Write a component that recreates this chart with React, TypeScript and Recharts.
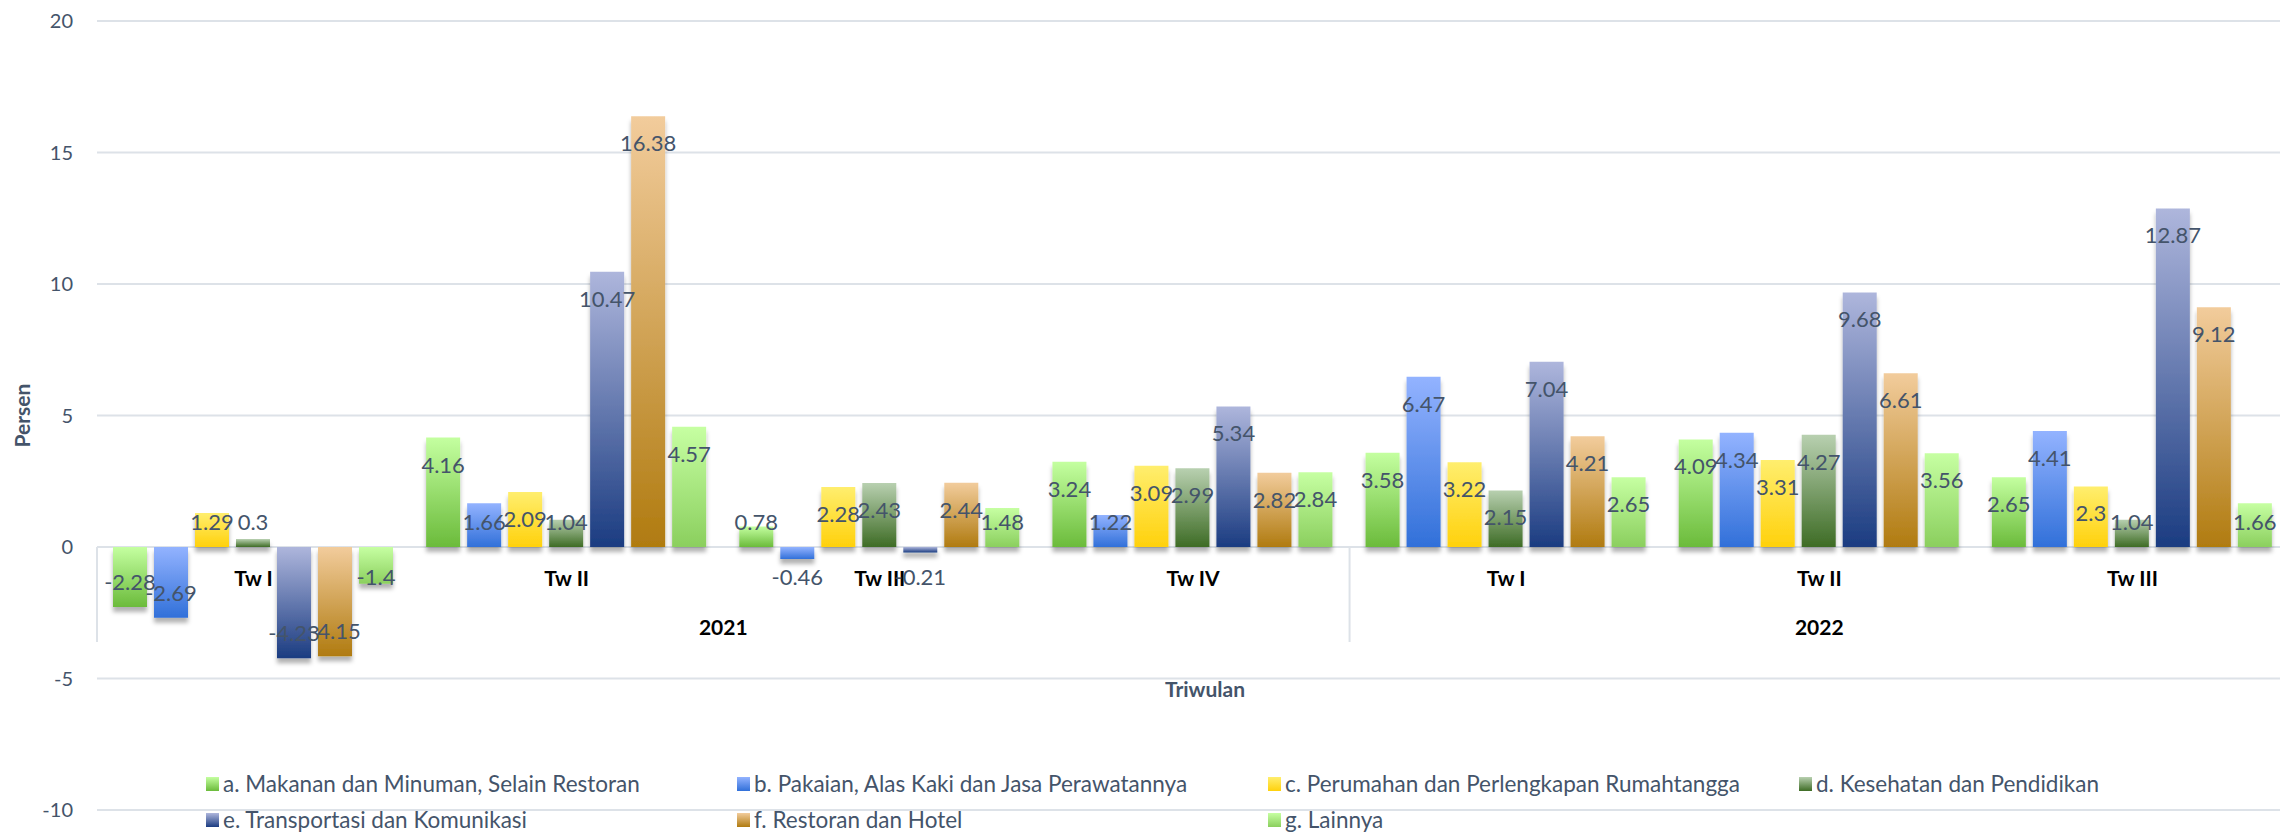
import { BarChart, Bar, XAxis, YAxis, CartesianGrid, LabelList } from 'recharts'

const quarters = ['Tw I', 'Tw II', 'Tw III', 'Tw IV', 'Tw I', 'Tw II', 'Tw III']
const years = ['2021', '2021', '2021', '2021', '2022', '2022', '2022']

const makanan = [-2.28, 4.16, 0.78, 3.24, 3.58, 4.09, 2.65]
const pakaian = [-2.69, 1.66, -0.46, 1.22, 6.47, 4.34, 4.41]
const perumahan = [1.29, 2.09, 2.28, 3.09, 3.22, 3.31, 2.3]
const kesehatan = [0.3, 1.04, 2.43, 2.99, 2.15, 4.27, 1.04]
const transportasi = [-4.23, 10.47, -0.21, 5.34, 7.04, 9.68, 12.87]
const restoran = [-4.15, 16.38, 2.44, 2.82, 4.21, 6.61, 9.12]
const lainnya = [-1.4, 4.57, 1.48, 2.84, 2.65, 3.56, 1.66]

const seriesNames = [
  'a. Makanan dan Minuman, Selain Restoran',
  'b. Pakaian, Alas Kaki dan Jasa Perawatannya',
  'c. Perumahan dan Perlengkapan Rumahtangga',
  'd. Kesehatan dan Pendidikan',
  'e. Transportasi dan Komunikasi',
  'f. Restoran dan Hotel',
  'g. Lainnya',
]
const seriesValues = [makanan, pakaian, perumahan, kesehatan, transportasi, restoran, lainnya]
const topColors = ['#c4ffa0', '#93b3ff', '#ffee6e', '#b8d0b0', '#aeb6dc', '#f2cc9c', '#c6ffa2']
const bottomColors = ['#6bbb3b', '#3170d9', '#ffd10c', '#3e6c25', '#1b3c81', '#b07b10', '#8bcf5e']

const yTicks = [-10, -5, 0, 5, 10, 15, 20]
const Y_MIN = -10
const Y_MAX = 20

const FONT = "Lato, 'Open Sans', sans-serif"
const TEXT = '#44546a'
const GRID = '#dde2e8'

const CHART_W = 2290
const CHART_H = 832
const TOP = 21
const X_AXIS_H = 22
const Y_AXIS_W = 97
const PLOT_H = CHART_H - TOP - X_AXIS_H
const ZERO_Y = TOP + ((Y_MAX - 0) / (Y_MAX - Y_MIN)) * PLOT_H

const data = quarters.map((q, i) => {
  const row: Record<string, string | number> = { key: `${years[i]} ${q}` }
  seriesValues.forEach((vals, s) => {
    row[`s${s}`] = vals[i]
  })
  return row
})

function QuarterTick(props: any) {
  const { x, payload } = props
  const i = payload.index
  const half = payload.offset ?? (CHART_W - Y_AXIS_W - 1) / quarters.length / 2
  const groupStart = i === 0 || years[i] !== years[i - 1]
  const groupLen = years.filter(y => y === years[i]).length
  const left = x - half
  return (
    <g>
      <text x={x} y={ZERO_Y + 31} dy="0.36em" textAnchor="middle" fontFamily={FONT} fontSize={21} fontWeight={700} fill="#000">
        {quarters[i]}
      </text>
      {groupStart && (
        <>
          <line x1={left} x2={left} y1={ZERO_Y} y2={ZERO_Y + 95} stroke={GRID} strokeWidth={2} />
          <text x={left + groupLen * half} y={ZERO_Y + 80} dy="0.36em" textAnchor="middle" fontFamily={FONT} fontSize={21} fontWeight={700} fill="#000">
            {years[i]}
          </text>
        </>
      )}
    </g>
  )
}

function renderValue(props: any) {
  const x = Number(props.x)
  const y = Number(props.y)
  const width = Number(props.width)
  const height = Number(props.height)
  const value = Number(props.value)
  const top = Math.min(y, y + height)
  const bottom = Math.max(y, y + height)
  const cy = value >= 0 ? Math.min(top + 27, ZERO_Y - 25) : Math.max(bottom - 25, ZERO_Y + 30)
  return (
    <text x={x + width / 2} y={cy} dy="0.36em" textAnchor="middle" fill={TEXT} fontSize={22} fontFamily={FONT}>
      {props.value}
    </text>
  )
}

function YTitle(props: any) {
  const vb = props.viewBox
  const cy = vb.y + vb.height / 2
  return (
    <text x={22} y={cy} dy="0.36em" textAnchor="middle" transform={`rotate(-90, 22, ${cy})`} fill={TEXT} fontSize={21} fontWeight={700} fontFamily={FONT}>
      Persen
    </text>
  )
}

function XTitle(props: any) {
  const vb = props.viewBox
  return (
    <text x={vb.x + vb.width / 2 + 12} y={ZERO_Y + 142} dy="0.36em" textAnchor="middle" fill={TEXT} fontSize={21} fontWeight={700} fontFamily={FONT}>
      Triwulan
    </text>
  )
}

export default function App() {
  return (
    <div style={{ position: 'fixed', left: 0, top: 0, width: 2280, height: 832, overflow: 'hidden', background: '#fff' }}>
      <BarChart
        width={CHART_W}
        height={CHART_H}
        data={data}
        margin={{ top: TOP, right: 1, left: 0, bottom: 0 }}
        barCategoryGap={16}
        barGap={7}
      >
        <defs>
          {topColors.map((c, i) => (
            <linearGradient key={i} id={`grad${i}`} x1="0" y1="0" x2="0" y2="1">
              <stop offset="0%" stopColor={c} />
              <stop offset="100%" stopColor={bottomColors[i]} />
            </linearGradient>
          ))}
          <filter id="barShadow" filterUnits="userSpaceOnUse" x="0" y="0" width="2400" height="900">
            <feDropShadow dx="0" dy="5" stdDeviation="2" floodColor="#000" floodOpacity="0.3" />
          </filter>
        </defs>
        <CartesianGrid vertical={false} stroke={GRID} strokeWidth={2} />
        <XAxis
          dataKey="key"
          height={X_AXIS_H}
          axisLine={false}
          tickLine={false}
          interval={0}
          tick={<QuarterTick />}
          label={<XTitle />}
        />
        <YAxis
          domain={[Y_MIN, Y_MAX]}
          ticks={yTicks}
          width={Y_AXIS_W}
          axisLine={false}
          tickLine={false}
          tickSize={0}
          tickMargin={24}
          tick={{ fill: TEXT, fontSize: 20, fontFamily: FONT }}
          label={<YTitle />}
        />
        {seriesNames.map((name, s) => (
          <Bar
            key={s}
            dataKey={`s${s}`}
            name={name}
            fill={`url(#grad${s})`}
            filter="url(#barShadow)"
            isAnimationActive={false}
          >
            <LabelList dataKey={`s${s}`} content={renderValue} />
          </Bar>
        ))}
      </BarChart>
      {seriesNames.map((name, i) => (
        <div
          key={name}
          style={{
            position: 'absolute',
            left: 206 + (i % 4) * 531,
            top: 784 + Math.floor(i / 4) * 36 - 11,
            height: 22,
            lineHeight: '22px',
            display: 'flex',
            alignItems: 'center',
            fontFamily: FONT,
            fontSize: 22.5,
            color: TEXT,
            whiteSpace: 'nowrap',
          }}
        >
          <span
            style={{
              display: 'inline-block',
              width: 13,
              height: 14,
              marginRight: 4,
              background: `linear-gradient(to bottom, ${topColors[i]}, ${bottomColors[i]})`,
            }}
          />
          {name}
        </div>
      ))}
    </div>
  )
}
